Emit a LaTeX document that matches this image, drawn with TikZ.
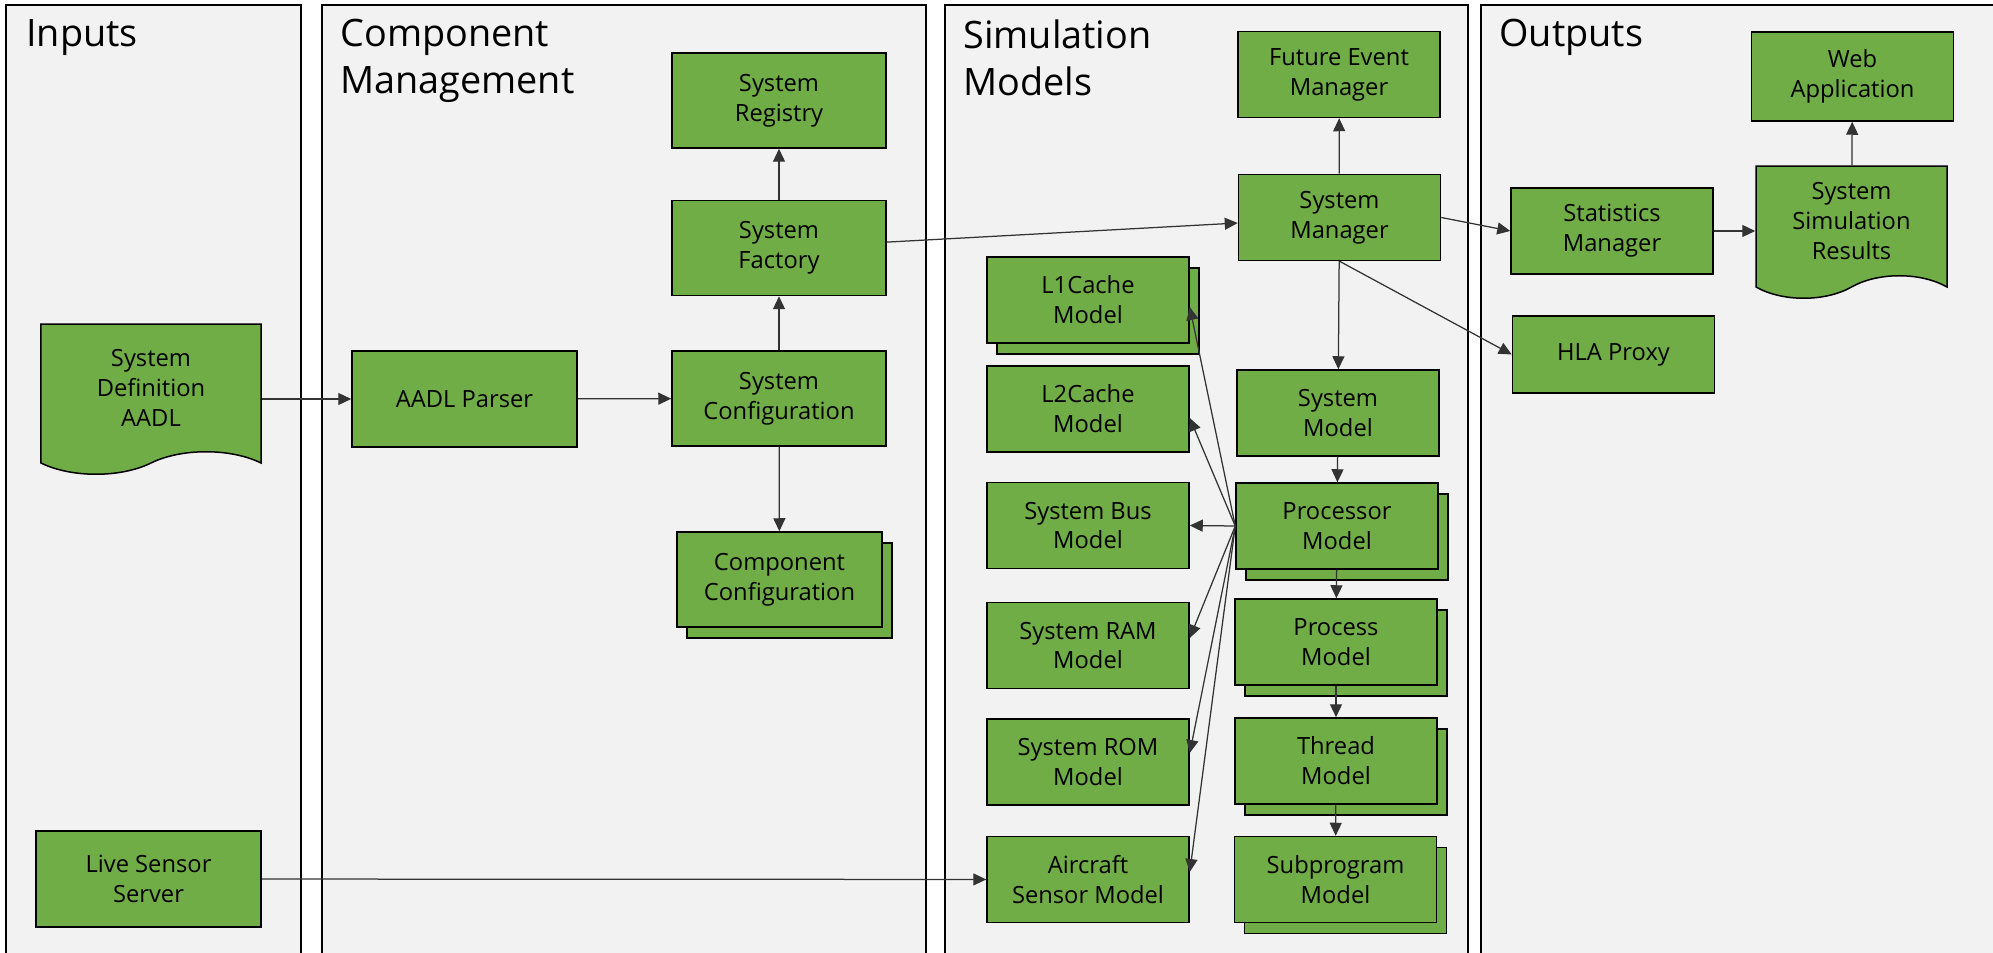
\documentclass[tikz,border=0pt]{standalone}
\usepackage{fontspec}
\setmainfont{Open Sans}
\usepackage{tikz}
\usetikzlibrary{arrows.meta}
\usetikzlibrary{shapes.symbols}
\usetikzlibrary{shadows}
\definecolor{boxgreen}{HTML}{70AD47}
\definecolor{lanegray}{HTML}{F2F2F2}
\tikzset{every edge/.style={draw=black!80, line width=0.25mm}}
\tikzset{
  lane/.style={draw, line width=0.45mm, fill=lanegray},
  lanetitle/.style={anchor=north west, inner sep=0pt, align=left, font=\fontsize{21.5}{26.8}\selectfont},
  blk/.style={draw, line width=0.3mm, fill=boxgreen, align=center, inner sep=1mm,
    minimum width=40.4mm, minimum height=17.2mm, font=\fontsize{13.5}{17}\selectfont},
  stack/.style={blk, copy shadow={shadow xshift=2mm, shadow yshift=-2.2mm}},
  doc/.style={blk, shape=tape, tape bend top=none, tape bend bottom=in and out, tape bend height=4.5mm},
}

\begin{document}
\begin{tikzpicture}[x=0.2mm, y=-0.2mm, >={Triangle[length=2.6mm,width=2.4mm]}]
    \useasboundingbox (0,0) rectangle (1993,953);

    % swim lanes
    \draw[lane] (6,5) rectangle (301,960);
    \draw[lane] (322,5) rectangle (926,960);
    \draw[lane] (945,5) rectangle (1468,960);
    \draw[lane] (1481,5) rectangle (2000,960);
    \node[lanetitle] at (26,19)   (tin)  {Inputs};
    \node[lanetitle] at (340,19)  (tcm)  {Component\\Management};
    \node[lanetitle] at (963,19)  (tsm)  {Simulation\\Models};
    \node[lanetitle] at (1499,19) (tout) {Outputs};

    % inputs
    \node[doc, minimum width=44mm, minimum height=30mm] at (151,388) (sysdef) {System\\Definition\\AADL};
    \node[blk, minimum width=45mm, minimum height=19.2mm] at (148.5,879) (live) {Live Sensor\\Server};

    % component management
    \node[blk, minimum width=45mm, minimum height=19.2mm] at (464.5,399) (parser) {AADL Parser};
    \node[blk, minimum width=42.8mm, minimum height=19mm] at (779,100.5) (registry) {System\\Registry};
    \node[blk, minimum width=42.8mm, minimum height=19mm] at (779,248)   (factory) {System\\Factory};
    \node[blk, minimum width=42.8mm, minimum height=19mm] at (779,398.5) (syscfg) {System\\Configuration};
    \node[stack, minimum width=41mm, minimum height=19mm] at (779.5,579.5) (compcfg) {Component\\Configuration};

    % simulation models
    \node[blk] at (1339,74.5)   (future) {Future Event\\Manager};
    \node[blk] at (1339.5,217.5) (sysmgr) {System\\Manager};
    \node[stack] at (1088,300)  (l1) {L1Cache\\Model};
    \node[blk] at (1088,409)    (l2) {L2Cache\\Model};
    \node[blk] at (1088,525.5)  (bus) {System Bus\\Model};
    \node[blk] at (1088,645.5)  (ram) {System RAM\\Model};
    \node[blk] at (1088,762)    (rom) {System ROM\\Model};
    \node[blk] at (1088,879.5)  (aircraft) {Aircraft\\Sensor Model};
    \node[blk] at (1338,413)    (sysmodel) {System\\Model};
    \node[stack] at (1337,526)  (proc) {Processor\\Model};
    \node[stack] at (1336,642)  (process) {Process\\Model};
    \node[stack] at (1336,761)  (thread) {Thread\\Model};
    \node[stack] at (1335.5,879.5) (subprog) {Subprogram\\Model};

    % outputs
    \node[blk] at (1612,231) (stats) {Statistics\\Manager};
    \node[blk, minimum height=15.4mm] at (1613.5,354.5) (hla) {HLA Proxy};
    \node[doc, minimum width=38.2mm, minimum height=26.4mm] at (1851.5,221) (results) {System\\Simulation\\Results};
    \node[blk, minimum height=17.8mm] at (1852.5,76.5) (web) {Web\\Application};

    \draw (sysdef.east |- parser) edge[->] (parser);
    \draw (parser) edge[->] (syscfg);
    \draw (syscfg) edge[->] (factory);
    \draw (factory) edge[->] (registry);
    \draw (syscfg) edge[->] (compcfg);
    \draw (factory) edge[->] (sysmgr);
    \draw (live) edge[->] (aircraft);

    \draw (sysmgr) edge[->] (future);
    \draw (sysmgr) edge[->] (sysmodel);
    \draw (sysmgr.east) edge[->] (stats.west);
    \draw (sysmgr.south) edge[->] (hla.west);
    \draw (stats) edge[->] (stats -| results.west);
    \draw (results) edge[->] (web);

    \draw (sysmodel) edge[->] (proc);
    \draw (proc) edge[->] (process);
    \draw (process) edge[->] (thread);
    \draw (thread) edge[->] (subprog);

    \draw (proc.west) edge[->] ([yshift=-1.4mm]l1.east);
    \draw (proc.west) edge[->] ([yshift=-1.8mm]l2.east);
    \draw (proc.west) edge[->] (bus.east);
    \draw (proc.west) edge[->] ([yshift=1.5mm]ram.east);
    \draw (proc.west) edge[->] ([yshift=1.8mm]rom.east);
    \draw (proc.west) edge[->] ([yshift=1.5mm]aircraft.east);
\end{tikzpicture}
\end{document}
